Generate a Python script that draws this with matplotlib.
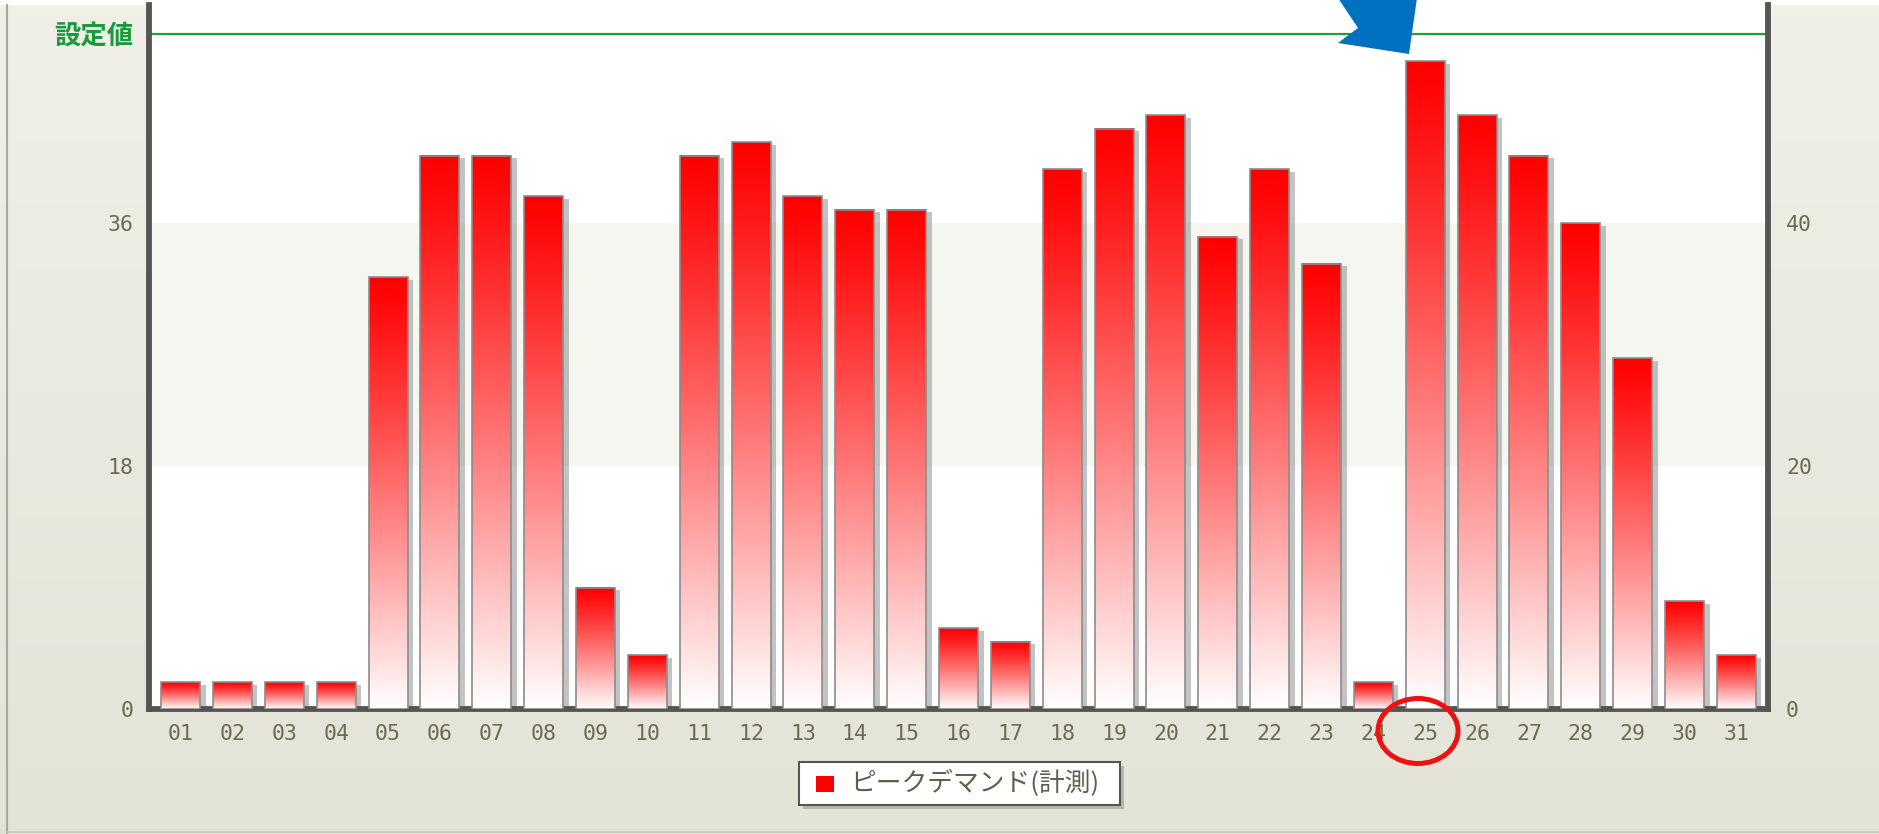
import numpy as np
import matplotlib.pyplot as plt
import matplotlib.patheffects as pe
from matplotlib.patches import Rectangle, Ellipse, Polygon
from matplotlib.lines import Line2D

# data
days = [f"{d:02d}" for d in range(1, 32)]
demand = [2, 2, 2, 2, 32, 41, 41, 38, 9, 4,
          41, 42, 38, 37, 37, 6, 5, 40, 43, 44,
          35, 40, 33, 2, 48, 44, 41, 36, 26, 8, 4]
setpoint = 50
left_ticks = [0, 18, 36]
right_ticks = [0, 20, 40]
setpoint_label = "設定値"
legend_label = "ピークデマンド(計測)"

W, H = 1879, 834
plt.rcParams['font.family'] = ['DejaVu Sans Mono', 'Noto Sans CJK JP']
TXT = '#6b6b55'


def fx(px):
    return px / W


def fy(py):
    return 1 - py / H


fig = plt.figure(figsize=(W / 100, H / 100), dpi=100)

# beige page background
bg = fig.add_axes([0, 0, 1, 1], zorder=-10)
t = np.linspace(0, 1, 200)[:, None]
top_c = np.array([0.945, 0.942, 0.91])
bot_c = np.array([0.89, 0.89, 0.845])
bg.imshow(top_c + (bot_c - top_c) * t[:, :, None], extent=(0, 1, 0, 1), aspect='auto')
bg.axis('off')
fig.add_artist(Rectangle((0, fy(5)), 1, 5 / H, transform=fig.transFigure,
                         fc='white', ec='none', zorder=-5))
fig.add_artist(Line2D([fx(7), fx(7)], [0, fy(5)], color='#a8a8a0', lw=1.5))
fig.add_artist(Line2D([fx(7), 1], [fy(832), fy(832)], color='#c8c8c0', lw=1.2))

ax = fig.add_axes([fx(149), fy(709), (1768 - 149) / W, (709 - 5) / H])
ymax = (709 - 5) / 13.5
ax.set_facecolor('white')
ax.axhspan(18, 36, color='#f6f6f0', zorder=0, lw=0)
ax.axhline(setpoint, color='#1ca03a', lw=1.6, zorder=1)

x = np.arange(len(days))
width = 0.75
bars = ax.bar(x, demand, width, color='white', edgecolor='none', zorder=2,
              path_effects=[pe.SimplePatchShadow(offset=(4, -2), shadow_rgbFace='#7a7a7a', alpha=0.45),
                            pe.Normal()])

# red-to-white gradient inside each bar
g = np.linspace(0, 1, 256) ** 1.15
grad = np.ones((256, 1, 3))
grad[:, 0, 1] = g
grad[:, 0, 2] = g
for xi, h in zip(x, demand):
    ax.imshow(grad, extent=(xi - width / 2, xi + width / 2, 0, h), aspect='auto', zorder=3)
ax.bar(x, demand, width, color='none', edgecolor='#8c8c8c', linewidth=1.2, zorder=4)

ax.set_xlim(-0.61, len(days) - 1 + 0.61)
ax.set_ylim(0, ymax)

for s in ['left', 'right', 'bottom']:
    ax.spines[s].set_color('#555555')
    ax.spines[s].set_linewidth(4.2)
ax.spines['top'].set_visible(False)

ax.set_xticks(x, days)
ax.tick_params(axis='x', length=0, pad=11, labelsize=15.5, labelcolor=TXT)
ax.set_yticks(left_ticks + [setpoint], [str(v) for v in left_ticks] + [setpoint_label])
ax.tick_params(axis='y', length=0, pad=11, labelsize=15.5, labelcolor=TXT)
lab = ax.get_yticklabels()[-1]
lab.set_color('#1a9a3a')
lab.set_fontfamily('Noto Sans CJK JP')
lab.set_fontsize(19)
lab.set_fontweight('bold')

ax2 = ax.twinx()
ax2.set_ylim(0, ymax * 20 / 18)
ax2.set_yticks(right_ticks)
ax2.tick_params(axis='y', length=0, pad=13, labelsize=15.5, labelcolor=TXT)
for s in ax2.spines.values():
    s.set_visible(False)

# legend box
fig.add_artist(Rectangle((fx(803), fy(809)), (1120 - 799) / W, (805 - 762) / H,
                         transform=fig.transFigure, fc='#8a8a8a', ec='none', alpha=0.5, zorder=5))
fig.add_artist(Rectangle((fx(799), fy(805)), (1120 - 799) / W, (805 - 762) / H,
                         transform=fig.transFigure, fc='white', ec='#555555', lw=1.5, zorder=6))
fig.add_artist(Rectangle((fx(816), fy(792)), 18 / W, 16 / H,
                         transform=fig.transFigure, fc='#ff0000', ec='none', zorder=7))
fig.text(fx(850), fy(784), legend_label, fontsize=18.5, family='Noto Sans CJK JP',
         color='#5e5e4c', va='center', ha='left', zorder=7)

# red circle around "25" and blue arrow
fig.add_artist(Ellipse((fx(1418), fy(731)), 80 / W, 65 / H, transform=fig.transFigure,
                       fc='none', ec='#ee1111', lw=3.6, zorder=10))
arrow_px = [(1338, -2), (1358, 28), (1338, 43), (1409, 54), (1417, -2)]
fig.add_artist(Polygon([(fx(a), fy(b)) for a, b in arrow_px], closed=True,
                       transform=fig.transFigure, fc='#0070c0', ec='none', zorder=10))

fig.savefig("out.png", dpi=100)
